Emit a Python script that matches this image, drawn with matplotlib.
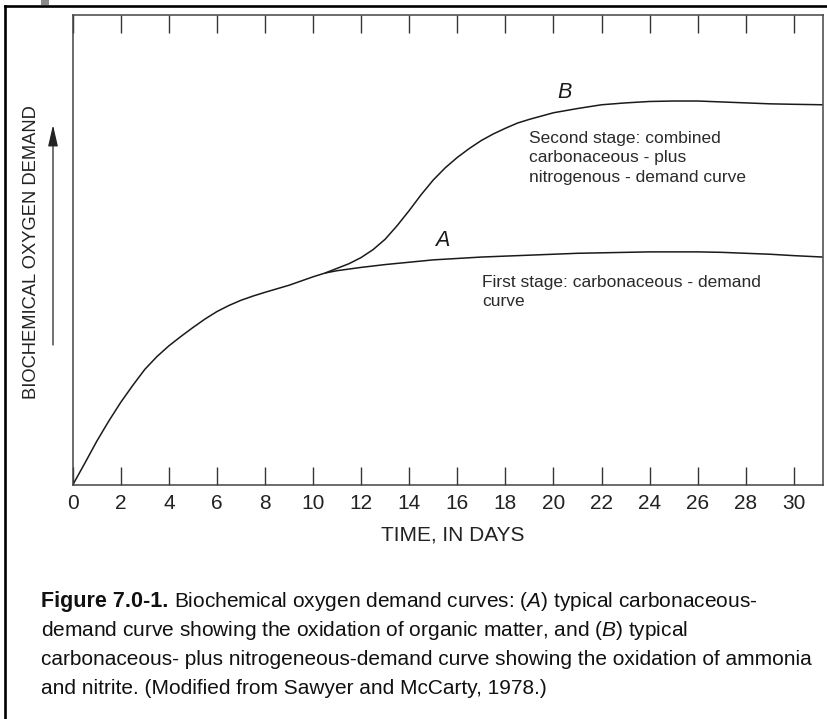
import numpy as np
import matplotlib
matplotlib.use("Agg")
import matplotlib.pyplot as plt
from matplotlib.lines import Line2D
from matplotlib.patches import Rectangle

# fonts
plt.rcParams['font.family'] = ['Liberation Sans', 'DejaVu Sans']
plt.rcParams['mathtext.fontset'] = 'custom'
plt.rcParams['mathtext.rm'] = 'Liberation Sans'
plt.rcParams['mathtext.it'] = 'Liberation Sans:italic'

## data (days, relative BOD 0-100)
days_a = [0, 0.5, 1, 1.5, 2, 2.5, 3, 3.5, 4, 4.5, 5, 5.5, 6, 6.5, 7, 7.5, 8, 9, 10, 10.5,
          11, 12, 13, 14, 15, 16, 17, 18, 19, 20, 21, 22, 23, 24, 25, 26, 27, 28, 29, 30, 31.2]
bod_a = [0, 4.6, 9.3, 13.6, 17.6, 21.2, 24.6, 27.3, 29.6, 31.6, 33.5, 35.3, 36.9, 38.2, 39.3, 40.2, 41.0, 42.5, 44.3, 45.1,
         45.6, 46.3, 46.9, 47.4, 47.9, 48.2, 48.5, 48.7, 48.9, 49.1, 49.3, 49.4, 49.5, 49.6, 49.6, 49.6, 49.5, 49.3, 49.1, 48.8, 48.5]
days_b = [10.5, 11, 11.5, 12, 12.5, 13, 13.5, 14, 14.5, 15, 15.5, 16, 16.5, 17, 17.5, 18, 18.5, 19,
          20, 21, 22, 23, 24, 25, 26, 27, 28, 29, 30, 31.2]
bod_b = [45.1, 46.1, 47.1, 48.4, 50.1, 52.3, 55.2, 58.4, 61.8, 64.9, 67.5, 69.7, 71.6, 73.3, 74.7, 75.9, 77.0, 77.8,
         79.2, 80.1, 80.9, 81.3, 81.6, 81.7, 81.7, 81.5, 81.3, 81.1, 81.0, 80.9]
xticks = list(range(0, 31, 2))

caption = [
    "demand curve showing the oxidation of organic matter, and ($\\mathit{B}$) typical",
    "carbonaceous- plus nitrogeneous-demand curve showing the oxidation of ammonia",
    "and nitrite. (Modified from Sawyer and McCarty, 1978.)",
]

W, H = 827, 719
fig = plt.figure(figsize=(W / 100, H / 100), dpi=100)
fx = lambda px: px / W
fy = lambda py: 1 - py / H

ax = fig.add_axes([fx(72.7), fy(485), 750 / W, 470 / H])
ax.plot(days_a, bod_a, color='#1a1a1a', lw=1.1, solid_capstyle='butt')
ax.plot(days_b, bod_b, color='#1a1a1a', lw=1.1, solid_capstyle='butt')
ax.set_xlim(0, 31.2)
ax.set_ylim(0, 100)
ax.set_xticks(xticks)
ax.set_yticks([])
ax.tick_params(axis='x', direction='in', length=13, width=1.0, color='#333333',
               top=True, labeltop=False, labelsize=15, pad=6.5, labelcolor='#222222')
for s in ax.spines.values():
    s.set_color('#444444')
    s.set_linewidth(1.1)

# curve labels
ax.text(20.47, 83.6, 'B', style='italic', fontsize=15.5, ha='center', va='center', color='#1a1a1a')
ax.text(15.38, 52.1, 'A', style='italic', fontsize=15.5, ha='center', va='center', color='#1a1a1a')
for i, s in enumerate(["Second stage: combined", "carbonaceous - plus", "nitrogenous - demand curve"]):
    fig.text(fx(529), fy(143 + 19.3 * i), s, fontsize=12.5, va='baseline', ha='left', color='#2a2a2a')
for i, s in enumerate(["First stage: carbonaceous - demand", "curve"]):
    fig.text(fx(482), fy(287 + 19.3 * i), s, fontsize=12.5, va='baseline', ha='left', color='#2a2a2a')

# axis labels
fig.text(fx(453), fy(535), 'TIME, IN DAYS', fontsize=15, ha='center', va='center', color='#222222')
fig.text(fx(32), fy(252), 'BIOCHEMICAL OXYGEN DEMAND', fontsize=13.2, rotation=90,
         ha='center', va='center', color='#222222')
ax.annotate('', xy=(53, H - 125), xytext=(53, H - 345), xycoords='figure pixels',
            textcoords='figure pixels',
            arrowprops=dict(arrowstyle='-|>,head_length=1.3,head_width=0.3', lw=0.9,
                            color='#222222', mutation_scale=10, shrinkA=0, shrinkB=0))

# frame around the figure
fig.add_artist(Line2D([fx(5), fx(5)], [fy(5.5), 0], color='black', lw=1.9, transform=fig.transFigure))
fig.add_artist(Line2D([fx(5), 1], [fy(5.5), fy(5.5)], color='black', lw=1.9, transform=fig.transFigure))
fig.add_artist(Rectangle((fx(41), fy(5)), 8 / W, 5 / H, color='#8a8a8a', transform=fig.transFigure, lw=0))

# caption
r = fig.canvas.get_renderer()
t = fig.text(fx(41), fy(607), 'Figure 7.0-1.', fontsize=15.5, weight='bold', va='baseline', color='#111111')
bb = t.get_window_extent(r)
fig.text((bb.x1 + 5.5) / W, fy(607), 'Biochemical oxygen demand curves: ($\\mathit{A}$) typical carbonaceous-',
         fontsize=15, va='baseline', color='#111111')
for i, s in enumerate(caption):
    fig.text(fx(41), fy(636 + 29 * i), s, fontsize=15, va='baseline', color='#111111')

fig.savefig('out.png', dpi=100)
